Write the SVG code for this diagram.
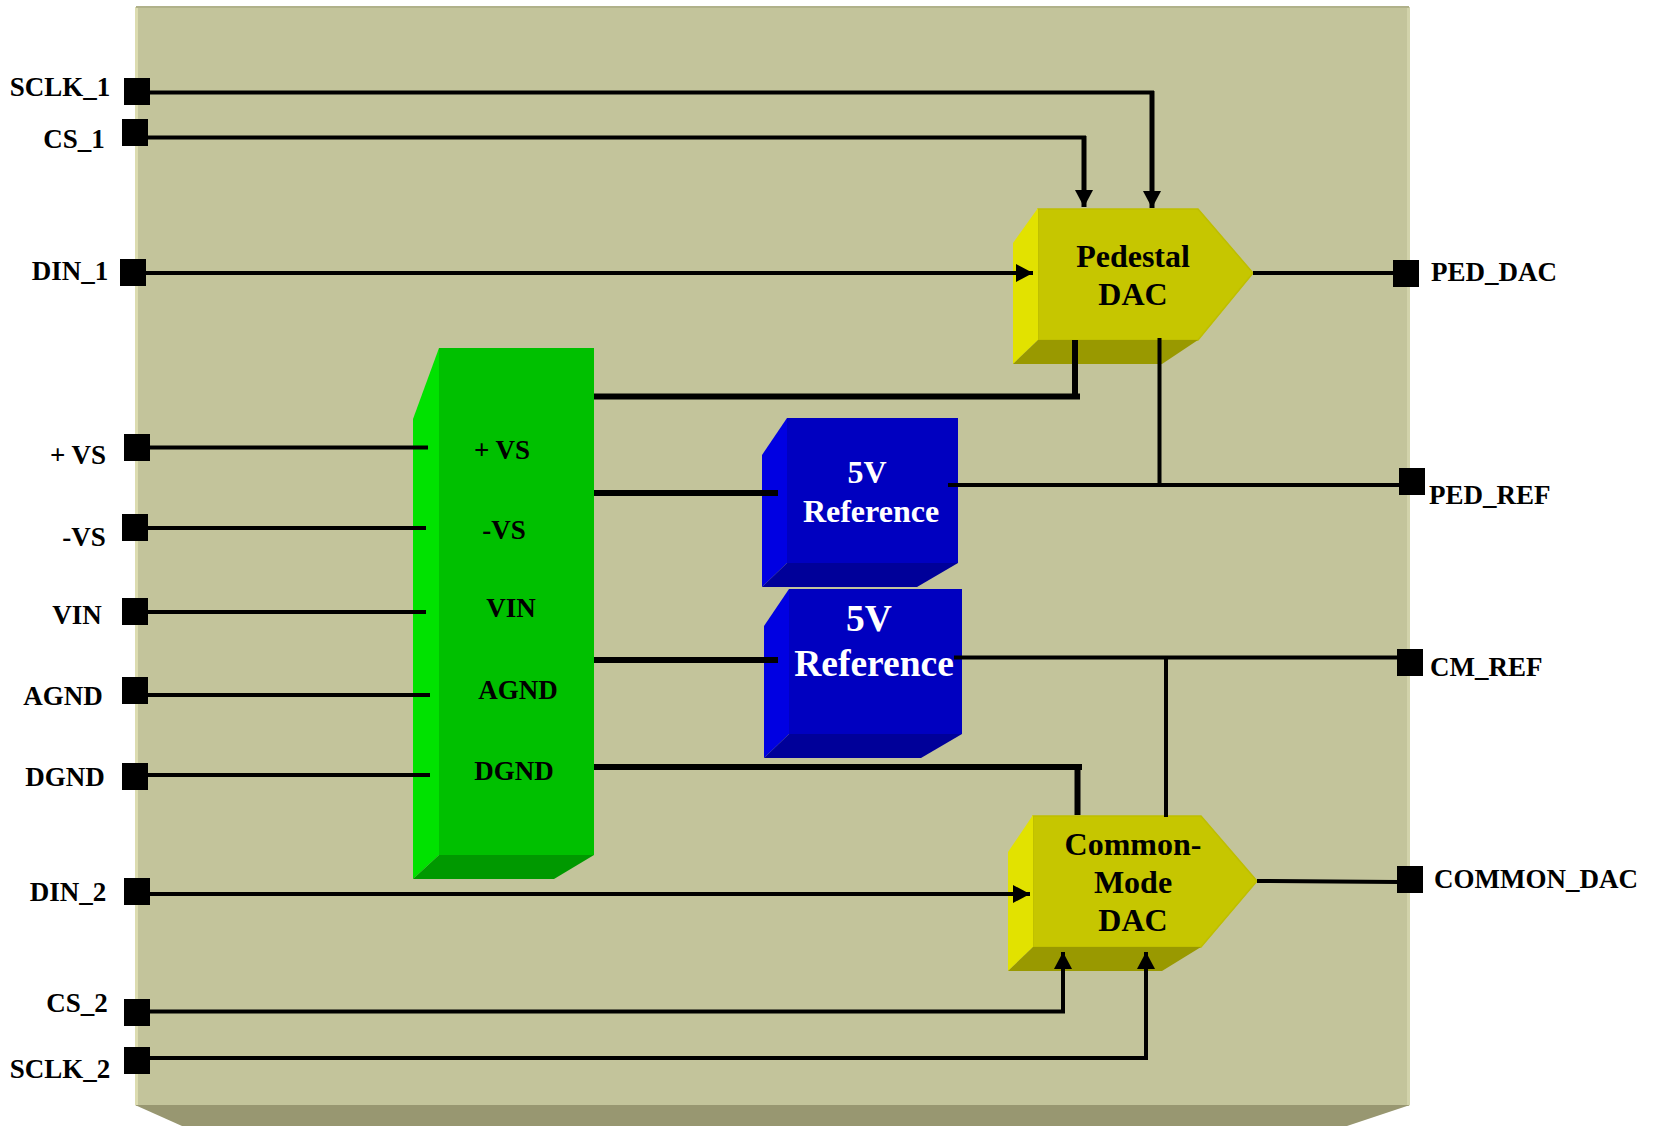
<svg xmlns="http://www.w3.org/2000/svg" width="1655" height="1126" viewBox="0 0 1655 1126">
<style>
text{font-family:"Liberation Serif","Times New Roman",serif;font-weight:bold;fill:#000;text-anchor:middle}
.p{font-size:27px;text-anchor:start}
.n{font-size:27px}
.d{font-size:32px}
.b{font-size:37.500px}
.w{fill:#fff}
.l{fill:none;stroke:#000;stroke-width:4}
.v{fill:none;stroke:#000;stroke-width:5}
.t{fill:none;stroke:#000;stroke-width:6}
.k{fill:#000}
</style>
<defs>
<marker id="a" viewBox="0 0 17 18" refX="17" refY="9" markerWidth="17" markerHeight="18" markerUnits="userSpaceOnUse" orient="auto"><path d="M0 0L17 9L0 18Z" fill="#000"/></marker>
</defs>
<rect width="1655" height="1126" fill="#fff"/>
<g id="chip">
<rect x="136" y="7" width="1273" height="1099" fill="#c3c49b"/>
<rect x="135" y="7" width="3" height="1098" fill="#dcdcb0"/>
<rect x="1407" y="7" width="3" height="1098" fill="#d2d3ab"/>
<rect x="136" y="6" width="1273" height="2" fill="#b0b18a"/>
<path d="M135 1105L182 1126H1347L1410 1105Z" fill="#989771"/>
</g>
<g id="ped-dac">
<path d="M1038 209H1198L1253 273L1198 340H1038Z" fill="#c6c600" stroke="#bebe00" stroke-width="1.500"/>
<path d="M1013 243L1038 208V340L1013 364Z" fill="#e2e200"/>
<path d="M1013 364H1162L1198 340H1038Z" fill="#999900"/>
<text class="d" x="1133" y="267">Pedestal</text>
<text class="d" x="1133" y="305">DAC</text>
</g>
<g id="power">
<path d="M439 348H594V855H439Z" fill="#00c000"/>
<path d="M413 419L439 348V855L413 879Z" fill="#00e200"/>
<path d="M413 879H554L594 855H439Z" fill="#009900"/>
<text class="n" x="502" y="459">+ VS</text>
<text class="n" x="504" y="539">-VS</text>
<text class="n" x="511" y="617">VIN</text>
<text class="n" x="518" y="699">AGND</text>
<text class="n" x="514" y="780">DGND</text>
</g>
<g id="ref-1">
<path d="M787 418H958V563H787Z" fill="#0000c0"/>
<path d="M762 455L787 418V563L762 587Z" fill="#0000e2"/>
<path d="M762 587H917L958 563H787Z" fill="#000099"/>
<text class="d w" x="867" y="483">5V</text>
<text class="d w" x="871" y="522">Reference</text>
</g>
<g id="ref-2">
<path d="M789 589H962V734H789Z" fill="#0000c0"/>
<path d="M764 626L789 589V734L764 758Z" fill="#0000e2"/>
<path d="M764 758H921L962 734H789Z" fill="#000099"/>
<text class="b w" x="869" y="631">5V</text>
<text class="b w" x="874" y="676">Reference</text>
</g>
<g id="cm-dac">
<path d="M1033 816H1201L1257 881L1201 947H1033Z" fill="#c6c600" stroke="#bebe00" stroke-width="1.500"/>
<path d="M1008 852L1033 815V947L1008 971Z" fill="#e2e200"/>
<path d="M1008 971H1162L1201 947H1033Z" fill="#999900"/>
<text class="d" x="1133" y="855">Common-</text>
<text class="d" x="1133" y="893">Mode</text>
<text class="d" x="1133" y="931">DAC</text>
</g>
<g id="connectors">
<path class="l" d="M149 92.500H1154"/>
<path class="v" d="M1152 91V208" marker-end="url(#a)"/>
<path class="l" d="M147 137.500H1086"/>
<path class="v" d="M1084 136V207" marker-end="url(#a)"/>
<path class="l" d="M145 273H1033" marker-end="url(#a)"/>
<path class="l" d="M1253 273H1393"/>
<path class="t" d="M594 396.500H1080"/>
<path class="t" d="M1075 340V399"/>
<path class="l" d="M1159.500 338V487"/>
<path class="t" d="M594 493H778"/>
<path class="l" d="M948 485H1399"/>
<path class="t" d="M594 660H778"/>
<path class="l" d="M954 657.500H1398"/>
<path class="l" d="M1166 657V817"/>
<path class="t" d="M594 767H1082"/>
<path class="t" d="M1077.500 767V815"/>
<path class="l" d="M149 447.500H428"/>
<path class="l" d="M147 528H426"/>
<path class="l" d="M147 612H426"/>
<path class="l" d="M147 695H430"/>
<path class="l" d="M147 775H430"/>
<path class="l" d="M149 894H1030" marker-end="url(#a)"/>
<path class="l" d="M149 1011.500H1063V952" marker-end="url(#a)"/>
<path class="l" d="M149 1058H1146V952" marker-end="url(#a)"/>
<path class="l" d="M1257 881L1398 882"/>
</g>
<g id="ports">
<rect class="k" x="124" y="78" width="26" height="27"/>
<rect class="k" x="122" y="119" width="26" height="27"/>
<rect class="k" x="120" y="259" width="26" height="27"/>
<rect class="k" x="124" y="434" width="26" height="27"/>
<rect class="k" x="122" y="514" width="26" height="27"/>
<rect class="k" x="122" y="598" width="26" height="27"/>
<rect class="k" x="122" y="677" width="26" height="27"/>
<rect class="k" x="122" y="763" width="26" height="27"/>
<rect class="k" x="124" y="878" width="26" height="27"/>
<rect class="k" x="124" y="999" width="26" height="27"/>
<rect class="k" x="124" y="1047" width="26" height="27"/>
<rect class="k" x="1393" y="260" width="26" height="27"/>
<rect class="k" x="1399" y="468" width="26" height="27"/>
<rect class="k" x="1397" y="649" width="26" height="27"/>
<rect class="k" x="1397" y="866" width="26" height="27"/>
<text class="n" x="60" y="96">SCLK_1</text>
<text class="n" x="74" y="148">CS_1</text>
<text class="n" x="70" y="280">DIN_1</text>
<text class="n" x="78" y="464">+ VS</text>
<text class="n" x="84" y="546">-VS</text>
<text class="n" x="77" y="624">VIN</text>
<text class="n" x="63" y="705">AGND</text>
<text class="n" x="65" y="786">DGND</text>
<text class="n" x="68" y="901">DIN_2</text>
<text class="n" x="77" y="1012">CS_2</text>
<text class="n" x="60" y="1078">SCLK_2</text>
<text class="p" x="1431" y="281">PED_DAC</text>
<text class="p" x="1429" y="504">PED_REF</text>
<text class="p" x="1430" y="676">CM_REF</text>
<text class="p" x="1434" y="888">COMMON_DAC</text>
</g>
</svg>
